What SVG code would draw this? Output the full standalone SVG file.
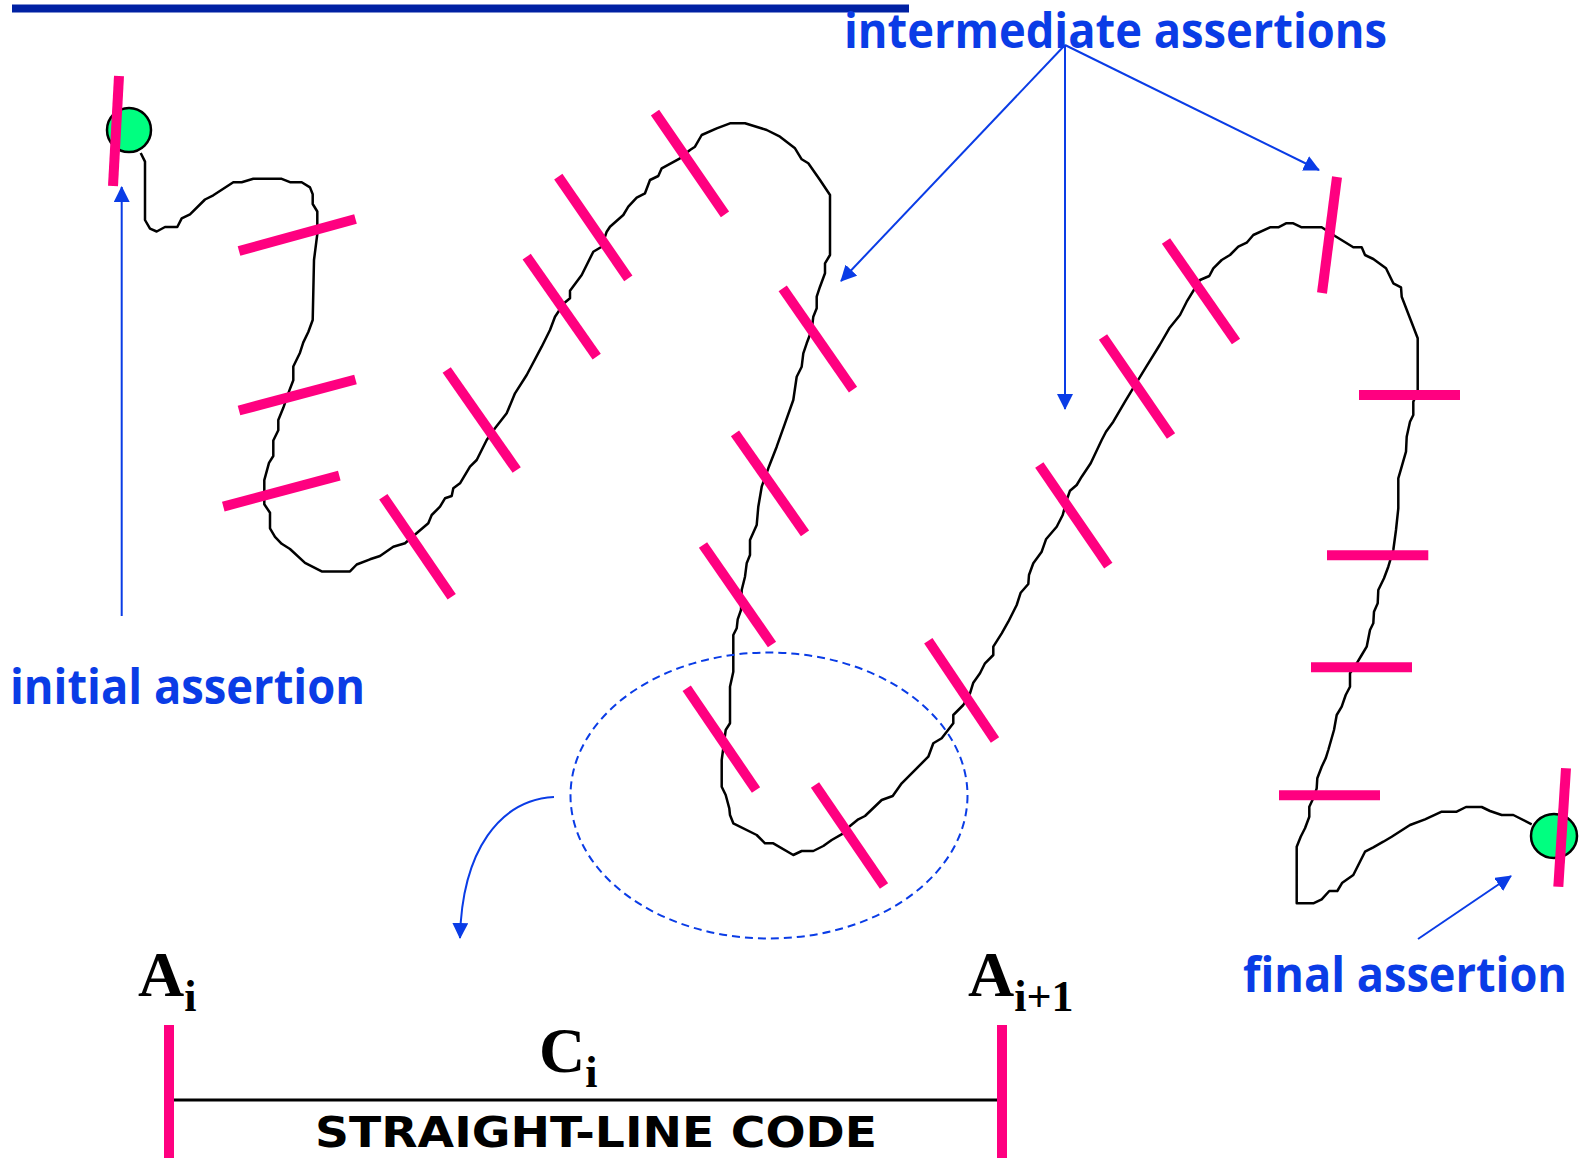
<svg xmlns="http://www.w3.org/2000/svg" width="1579" height="1158" viewBox="0 0 1579 1158">
<style>
.tick{stroke:#ff0080;stroke-width:10;stroke-linecap:butt;fill:none}
.flow{stroke:#000;stroke-width:2.5;fill:none;stroke-linejoin:round}
.arr{stroke:#0a3ce6;stroke-width:2;fill:none;marker-end:url(#ah)}
.lbl{font-family:"Open Sans","Liberation Sans",sans-serif;font-weight:700;font-size:48px;fill:#0a3ce6}
.math{font-family:"Liberation Serif","Times New Roman",serif;font-weight:700;fill:#000}
.dot{fill:#00ff80;stroke:#000;stroke-width:2.5}
</style>
<defs>
<marker id="ah" markerUnits="userSpaceOnUse" markerWidth="16" markerHeight="16" refX="15" refY="8" orient="auto">
<path d="M0,0 L16,8 L0,16 z" fill="#0a3ce6"/>
</marker>
</defs>
<rect width="1579" height="1158" fill="#fff"/>
<rect id="title-rule" x="12" y="4.5" width="897" height="8" fill="#0021a3"/>

<g id="program-path">
<polyline class="flow" points="140.7,153 145,161.6 145,220 150,228.7 156.7,231.5 165,227 177.3,227 181.7,218.4 190,214.3 205,199.5 213.3,195.3 233.3,182.2 241.7,182.2 253.3,178.8 281.7,178.8 290,182.2 301.7,182.2 310,187.4 312.7,194.3 312.7,204 317.3,211.5 317.3,234 314,260 312.7,320 308.3,332 303.3,342.4 300,352.7 293.3,366.5 293.3,380.2 289.3,390.6 283.3,407.8 278.3,419.9 278.3,430.2 273.3,440.5 273.3,456 269,462.9 264.3,480.1 264.3,504.2 270,512.8 270,528.3 275,536.9 281.7,543.8 290,549 305,562.8 321.7,571.4 350,571.4 356.7,564.5 370,559.3 380,556 393.3,546.7 405,543.3 418.3,531.7 428.3,523.3 431.7,515 440,506.7 445,498.3 451.7,496 453.3,488.3 460,483.3 470,466.7 476.7,460 486.7,440 495,428.3 506.7,413.3 515,393.3 526.7,375 541.7,346.7 550,330 555,316.7 564,303.3 570,298.3 570,290.7 581.7,275 593.3,251.7 601.7,246.7 606.7,231.7 610,226.7 623.3,215 628.3,206.7 636.7,197.7 645,193.3 650,180 658.3,176 661.7,168.3 680,158.3 690,150 695,146.7 701.7,135 716.7,128.3 730,123.3 745,123.3 766.7,130 780,136.7 795,148.3 801.7,159.3 808.3,163.3 820,180 830,195 830,255 825,263.3 825,273.3 820,286.7 816.7,296.7 816.7,308.3 813.3,316.7 811.7,330 806.7,343.3 803.3,353.3 801.7,366.7 796.7,376.7 793.3,400 785,423.3 776.7,446.7 768.3,468.3 761.7,486.7 758.3,506.7 756.7,525 750,540 750,555 746.7,563.3 745,576.7 741.7,590 741,610 737.7,619.3 736.7,628.3 733.3,635 733.3,671.7 730,686.7 730,723.3 725.7,730 721.7,760 721.7,786.7 725.7,795 729.3,808.3 730,815 733.3,823.3 756.7,835 765,843.3 773.3,843.3 793.3,855 801.7,851 813.3,851 823.3,846 831.7,840 843.3,833.3 850,826 858.3,819.3 865,816 881.7,800 892.7,796 901.7,783.3 928.3,756.7 933.3,743.3 941.7,738.3 953.3,723.3 953.3,715 963.3,705 970,693.3 973.3,682.7 980,673.3 985,663.3 993.3,655 993.3,646.7 1001.7,633.3 1008.3,621.7 1016.7,605 1020.7,592.7 1028.3,584 1029,575 1033.3,563.3 1041.7,551.7 1046,539.3 1056.7,526.7 1062.7,515 1066.7,500 1070,490.7 1076.7,485 1081.7,476.7 1090.7,463.3 1101.7,440 1106,431.7 1113.3,421.7 1125,401.7 1133,388.3 1146.3,366.7 1159.7,345 1169.3,328.3 1180,315 1186.7,301.7 1200,280 1209.3,276 1213.3,268.3 1221.7,260 1230,255 1238.3,246.7 1246.7,242.7 1253.3,235 1270,227.3 1278.3,227.3 1286,223.3 1293.3,223.3 1301.7,227.3 1321.7,227.3 1335,236 1353.3,247.3 1361.7,247.3 1365,255 1373.3,259 1386,268.3 1393.3,283.3 1401,287.3 1401.7,296.7 1410,318.3 1413.3,326.7 1417.7,338.3 1417.7,391.7 1413.3,401.7 1413.3,415 1410,421.7 1406.7,436.7 1406,451.7 1401.7,466.7 1398.3,478.3 1398.3,508.3 1396,530 1393.3,550 1388.3,566.7 1384,578.3 1378.3,590 1377.7,603.3 1374,611.7 1373.3,623.3 1370,630 1366.7,646.7 1361.7,655 1356.7,663.3 1350,673.3 1350,686.7 1345.7,695 1341.7,706.7 1336.7,715 1334,730 1328.3,750 1325.7,758.3 1321.7,766.7 1317.3,778.3 1316.7,788.3 1313.3,798.3 1309.3,806.7 1309.3,816.7 1305,828.3 1300.7,836.7 1296.7,846.7 1296.7,903.3 1313.3,903.3 1321.7,899.3 1329.3,891 1337.3,891 1342.3,882.7 1353.3,875 1365,851.7 1373.3,847.3 1383.3,841.7 1391.7,836.7 1410,825 1425,819.3 1441.7,811.7 1456.7,811.7 1466,807 1481.7,807 1490,811 1501.7,815 1513.3,815 1531.7,824.3"/>
</g>

<g id="start-node">
<circle class="dot" cx="129" cy="130" r="22"/>
</g>
<g id="end-node">
<ellipse class="dot" cx="1554" cy="836" rx="23" ry="22"/>
</g>

<g id="assertion-ticks">
<line class="tick" x1="119" y1="76" x2="113" y2="186"/>
<line class="tick" x1="239" y1="251" x2="355.5" y2="219"/>
<line class="tick" x1="239" y1="410.5" x2="355.5" y2="379.5"/>
<line class="tick" x1="223.3" y1="506.6" x2="339.3" y2="475.6"/>
<line class="tick" x1="383.3" y1="496.7" x2="451.7" y2="596.7"/>
<line class="tick" x1="446.7" y1="370" x2="516.7" y2="470"/>
<line class="tick" x1="526.7" y1="256.7" x2="596.7" y2="356.7"/>
<line class="tick" x1="558.3" y1="176.7" x2="628.3" y2="278.3"/>
<line class="tick" x1="655" y1="112.7" x2="725" y2="214.3"/>
<line class="tick" x1="782.7" y1="288.3" x2="853" y2="389.7"/>
<line class="tick" x1="735" y1="433.3" x2="805" y2="533.3"/>
<line class="tick" x1="703" y1="545" x2="772" y2="644.5"/>
<line class="tick" x1="686.7" y1="688.3" x2="756" y2="790"/>
<line class="tick" x1="815" y1="785" x2="884" y2="886"/>
<line class="tick" x1="928.3" y1="640.7" x2="995" y2="740"/>
<line class="tick" x1="1039.3" y1="465" x2="1108.3" y2="565.7"/>
<line class="tick" x1="1103" y1="337" x2="1171" y2="436"/>
<line class="tick" x1="1166" y1="241" x2="1236" y2="341.5"/>
<line class="tick" x1="1337" y1="177" x2="1322" y2="293"/>
<line class="tick" x1="1359" y1="395" x2="1460" y2="395"/>
<line class="tick" x1="1327" y1="555.3" x2="1428.3" y2="555.3"/>
<line class="tick" x1="1311" y1="667.3" x2="1412" y2="667.3"/>
<line class="tick" x1="1279" y1="795.3" x2="1380" y2="795.3"/>
<line class="tick" x1="1566" y1="768.3" x2="1558.3" y2="886.7"/>
</g>

<g id="focus-region">
<ellipse cx="769" cy="795.5" rx="198.5" ry="143" fill="none" stroke="#0a3ce6" stroke-width="2" stroke-dasharray="8 5"/>
</g>

<g id="connectors">
<line class="arr" x1="121.7" y1="616" x2="121.7" y2="187"/>
<line class="arr" x1="1065" y1="45" x2="841" y2="281"/>
<line class="arr" x1="1065" y1="45" x2="1065" y2="409"/>
<line class="arr" x1="1065" y1="45" x2="1319" y2="170"/>
<line class="arr" x1="1418" y1="939" x2="1511" y2="876"/>
<path class="arr" d="M554,797 C500,800 462,850 460,938"/>
</g>

<g id="label-intermediate">
<text class="lbl" x="844" y="48" textLength="543" lengthAdjust="spacingAndGlyphs">intermediate assertions</text>
</g>
<g id="label-initial">
<text class="lbl" x="10" y="704" textLength="355" lengthAdjust="spacingAndGlyphs">initial assertion</text>
</g>
<g id="label-final">
<text class="lbl" x="1243" y="992" font-size="44" textLength="324" lengthAdjust="spacingAndGlyphs">final assertion</text>
</g>

<g id="straight-line-segment">
<line x1="174" y1="1100" x2="997" y2="1100" stroke="#000" stroke-width="3"/>
<line class="tick" x1="169" y1="1025" x2="169" y2="1158"/>
<line class="tick" x1="1002" y1="1025" x2="1002" y2="1158"/>
<text class="math" x="138" y="996" font-size="64">A<tspan font-size="44" dy="15">i</tspan></text>
<text class="math" x="968" y="996" font-size="64">A<tspan font-size="44" dy="15">i+1</tspan></text>
<text class="math" x="539" y="1072" font-size="64">C<tspan font-size="44" dy="15">i</tspan></text>
<text x="315" y="1147" font-family="'DejaVu Sans','Liberation Sans',sans-serif" font-weight="700" font-size="42" fill="#000" textLength="562" lengthAdjust="spacingAndGlyphs">STRAIGHT-LINE CODE</text>
</g>
</svg>
